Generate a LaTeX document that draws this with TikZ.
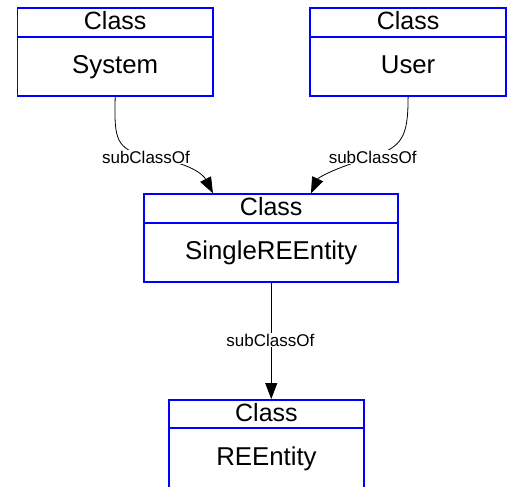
\documentclass[tikz,border=0pt]{standalone}
\usepackage{fontspec}
\setmainfont{Liberation Sans}
\usetikzlibrary{arrows.meta,backgrounds}

% One UML-style class box: header "Class" above the class name
\newcommand\umlclass[5]{%
  \node[classbox, minimum width=#4] (#1) at (#2,#3) {};
  \draw[classline] ([yshift=-29.4pt]#1.north west) -- ([yshift=-29.4pt]#1.north east);
  \node[classtext] (#1-t) at ([yshift=-22pt]#1.north) {Class};
  \node[classtext, font=\fontsize{25.8}{29}\selectfont] (#1-n) at ([yshift=-66pt]#1.north) {#5};
}

\begin{document}
\begin{tikzpicture}[x=1pt,y=-1pt,
  classbox/.style={draw=blue, line width=1.9pt, rectangle, minimum height=88pt,
                   inner sep=0pt, anchor=north west},
  classline/.style={draw=blue, line width=1.9pt},
  classtext/.style={anchor=base, inner sep=0pt, font=\fontsize{25}{28}\selectfont},
  edgelabel/.style={fill=white, inner sep=1pt, font=\fontsize{17}{20}\selectfont},
  subclass/.style={draw=black, line width=0.8pt, -{Triangle[length=16pt,width=12pt]}}]

  \useasboundingbox (0,0) rectangle (510,486);

  \umlclass{sys}{16.5}{7.3}{195.5pt}{System}
  \umlclass{usr}{309.3}{7.3}{195.7pt}{User}
  \umlclass{single}{143.3}{193.3}{254pt}{SingleREEntity}
  \umlclass{ree}{168.3}{399}{194.4pt}{REEntity}

  \node[edgelabel] (lab1) at (146,157) {subClassOf};
  \node[edgelabel] (lab2) at (372.7,157) {subClassOf};
  \node[edgelabel] (lab3) at (270.3,340) {subClassOf};

  \coordinate (tip1) at ([xshift=-58.3pt]single.north);
  \coordinate (tip2) at ([xshift=39.7pt]single.north);

  \begin{scope}[on background layer]
    \draw[subclass] (sys.south) .. controls (114,140) and (116,148) .. (lab1.center)
                    .. controls (192,162) and (204,176) .. (tip1);
    \draw[subclass] (usr.south) .. controls (408,138) and (402,146) .. (lab2.center)
                    .. controls (334,168) and (318,178) .. (tip2);
    \draw[subclass] (single.south) -- (single.south |- ree.north);
  \end{scope}
\end{tikzpicture}
\end{document}
